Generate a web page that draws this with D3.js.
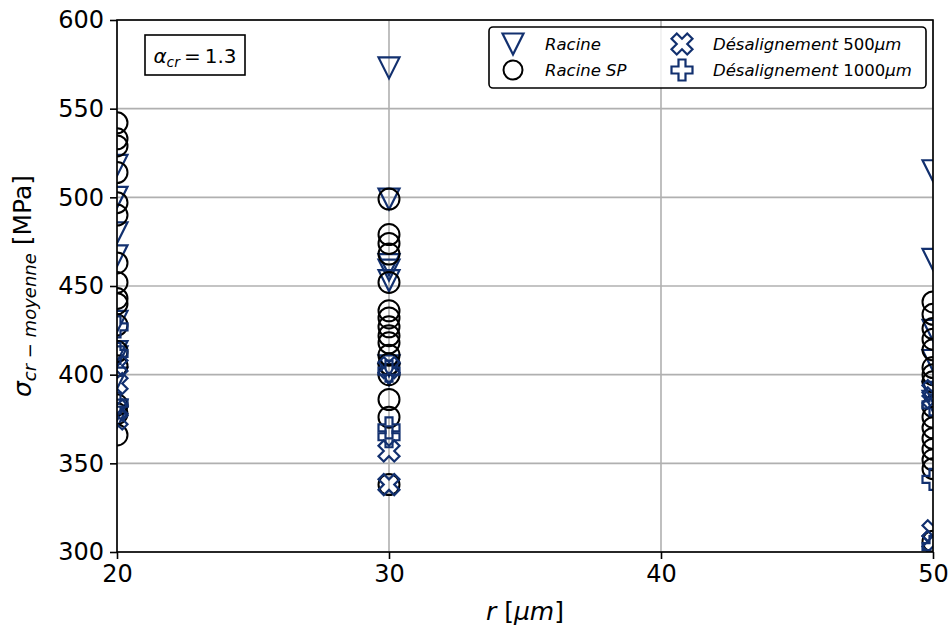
<!DOCTYPE html>
<html><head><meta charset="utf-8">
<script src="https://cdn.jsdelivr.net/npm/d3@7"></script>
<style>body{margin:0;background:#fff}svg{display:block}text{font-family:"DejaVu Sans",sans-serif}</style>
</head><body><svg id="c" width="952" height="631"></svg>
<script>
// ---- data ----
const xTicks = [20, 30, 40, 50];
const yTicks = [300, 350, 400, 450, 500, 550, 600];
const racine = [
  [20,518],[20,500],[20,480],[20,467],[20,430],[20,413],[20,410],[20,398],[20,380],[20,376],
  [30,573],[30,499],[30,462],[30,459],[30,453],[30,405],[30,400],
  [50,515],[50,465],[50,425],[50,408],[50,390],[50,385]
];
const racineSP = [
  [20,542],[20,533],[20,529],[20,514],[20,497],[20,490],[20,463],[20,452],[20,443],[20,440],[20,428],[20,413],[20,405],[20,383],[20,378],[20,366],
  [30,499],[30,479],[30,474],[30,468],[30,452],[30,436],[30,432],[30,427],[30,422],[30,418],[30,411],[30,406],[30,400],[30,386],[30,376],[30,338],
  [50,441],[50,434],[50,426],[50,420],[50,414],[50,404],[50,400],[50,396],[50,382],[50,376],[50,370],[50,364],[50,358],[50,352],[50,347],[50,306]
];
const desal500 = [
  [20,405],[20,395],[20,380],[20,375],
  [30,404],[30,357],[30,338],
  [50,391],[50,387],[50,312],[50,306]
];
const desal1000 = [
  [20,427],[20,412],[20,384],
  [30,402],[30,370],[30,365],
  [50,383],[50,341],[50,303]
];
const legendNames = ["Racine", "Racine SP", "Désalignement", "Désalignement"];
const legendSuffix = ["", "", "500", "1000"];

// ---- layout ----
const NAVY = "#12306f";
const L = 117, R = 933, T = 20, B = 552;
const svg = d3.select("#c");
const x = d3.scaleLinear().domain([20, 50]).range([L, R]);
const y = d3.scaleLinear().domain([300, 600]).range([B, T]);
const S = 21;

const sym = {
  tri: d3.line()([[0,0.5],[-0.5,-0.5],[0.5,-0.5]].map(p=>[p[0]*S, p[1]*S])) + "Z",
  plus: d3.line()([[-1,-3],[1,-3],[1,-1],[3,-1],[3,1],[1,1],[1,3],[-1,3],[-1,1],[-3,1],[-3,-1],[-1,-1]].map(p=>[p[0]/6*S, p[1]/6*S])) + "Z",
  ex: d3.line()([[-1,-2],[0,-1],[1,-2],[2,-1],[1,0],[2,1],[1,2],[0,1],[-1,2],[-2,1],[-1,0],[-2,-1]].map(p=>[p[0]/4*S, p[1]/4*S])) + "Z"
};

svg.append("defs").append("clipPath").attr("id","pa").append("rect")
  .attr("x", L).attr("y", T).attr("width", R-L).attr("height", B-T);

// grid
const g = svg.append("g");
g.selectAll(".gx").data(xTicks).join("line")
  .attr("x1", d=>x(d)).attr("x2", d=>x(d)).attr("y1", T).attr("y2", B)
  .attr("stroke", "#b0b0b0").attr("stroke-width", 1.6);
g.selectAll(".gy").data(yTicks).join("line")
  .attr("y1", d=>y(d)).attr("y2", d=>y(d)).attr("x1", L).attr("x2", R)
  .attr("stroke", "#b0b0b0").attr("stroke-width", 1.6);

// markers
const m = svg.append("g").attr("clip-path", "url(#pa)");
function draw(data, kind, color) {
  if (kind === "circ") {
    m.append("g").selectAll("circle").data(data).join("circle")
      .attr("cx", d=>x(d[0])).attr("cy", d=>y(d[1])).attr("r", S/2)
      .attr("fill", "none").attr("stroke", color).attr("stroke-width", 2);
  } else {
    m.append("g").selectAll("path").data(data).join("path")
      .attr("d", sym[kind]).attr("transform", d=>`translate(${x(d[0])},${y(d[1])})`)
      .attr("fill", "none").attr("stroke", color).attr("stroke-width", 2.2)
      .attr("stroke-linejoin", "miter");
  }
}
draw(racine, "tri", NAVY);
draw(racineSP, "circ", "#000");
draw(desal500, "ex", NAVY);
draw(desal1000, "plus", NAVY);

// frame
svg.append("rect").attr("x", L).attr("y", T).attr("width", R-L).attr("height", B-T)
  .attr("fill", "none").attr("stroke", "#000").attr("stroke-width", 1.6);

// axes
const xa = svg.append("g").attr("transform", `translate(0,${B})`)
  .call(d3.axisBottom(x).tickValues(xTicks).tickSize(7).tickPadding(6).tickFormat(d3.format("d")));
const ya = svg.append("g").attr("transform", `translate(${L},0)`)
  .call(d3.axisLeft(y).tickValues(yTicks).tickSize(7).tickPadding(6).tickFormat(d3.format("d")));
[xa, ya].forEach(a => {
  a.select(".domain").remove();
  a.selectAll(".tick line").attr("stroke", "#000").attr("stroke-width", 1.6);
  a.selectAll(".tick text").attr("font-size", 24).attr("fill", "#000").attr("font-family", "DejaVu Sans");
});

// axis labels
svg.append("text").attr("x", (L+R)/2).attr("y", 620).attr("text-anchor", "middle")
  .attr("font-size", 25)
  .html('<tspan font-style="italic">r</tspan> [<tspan font-style="italic">µm</tspan>]');
svg.append("text").attr("transform", `translate(31,${(T+B)/2}) rotate(-90)`).attr("text-anchor", "middle")
  .attr("font-size", 25)
  .html('<tspan font-style="italic">σ</tspan><tspan font-style="italic" font-size="18" dy="5">cr − moyenne</tspan><tspan dy="-5"> [MPa]</tspan>');

// annotation box
svg.append("rect").attr("x", 145).attr("y", 35).attr("width", 100).attr("height", 40)
  .attr("fill", "#fff").attr("stroke", "#000").attr("stroke-width", 1.6);
svg.append("text").attr("x", 195).attr("y", 63).attr("text-anchor", "middle").attr("font-size", 20)
  .html('<tspan font-style="italic">α</tspan><tspan font-style="italic" font-size="14" dy="4">cr</tspan><tspan dy="-4">\u2009=\u20091.3</tspan>');

// legend
const lg = svg.append("g");
lg.append("rect").attr("x", 489).attr("y", 27).attr("width", 437).attr("height", 61).attr("rx", 4)
  .attr("fill", "#fff").attr("fill-opacity", 0.8).attr("stroke", "#000").attr("stroke-width", 1.6);
const items = [
  {kind:"tri", color:NAVY, mx:513, my:44, tx:545, i:0},
  {kind:"circ", color:"#000", mx:513, my:70, tx:545, i:1},
  {kind:"ex", color:NAVY, mx:682, my:44, tx:713, i:2},
  {kind:"plus", color:NAVY, mx:682, my:70, tx:713, i:3}
];
items.forEach(it => {
  if (it.kind === "circ") {
    lg.append("circle").attr("cx", it.mx).attr("cy", it.my).attr("r", S/2 - 1)
      .attr("fill", "none").attr("stroke", it.color).attr("stroke-width", 2);
  } else {
    lg.append("path").attr("d", sym[it.kind]).attr("transform", `translate(${it.mx},${it.my})`)
      .attr("fill", "none").attr("stroke", it.color).attr("stroke-width", 2.2);
  }
  const t = lg.append("text").attr("x", it.tx).attr("y", it.my + 6).attr("font-size", 16.5);
  t.append("tspan").attr("font-style", "italic").text(legendNames[it.i]);
  if (legendSuffix[it.i]) {
    t.append("tspan").text(" " + legendSuffix[it.i]);
    t.append("tspan").attr("font-style", "italic").text("µm");
  }
});
</script></body></html>
